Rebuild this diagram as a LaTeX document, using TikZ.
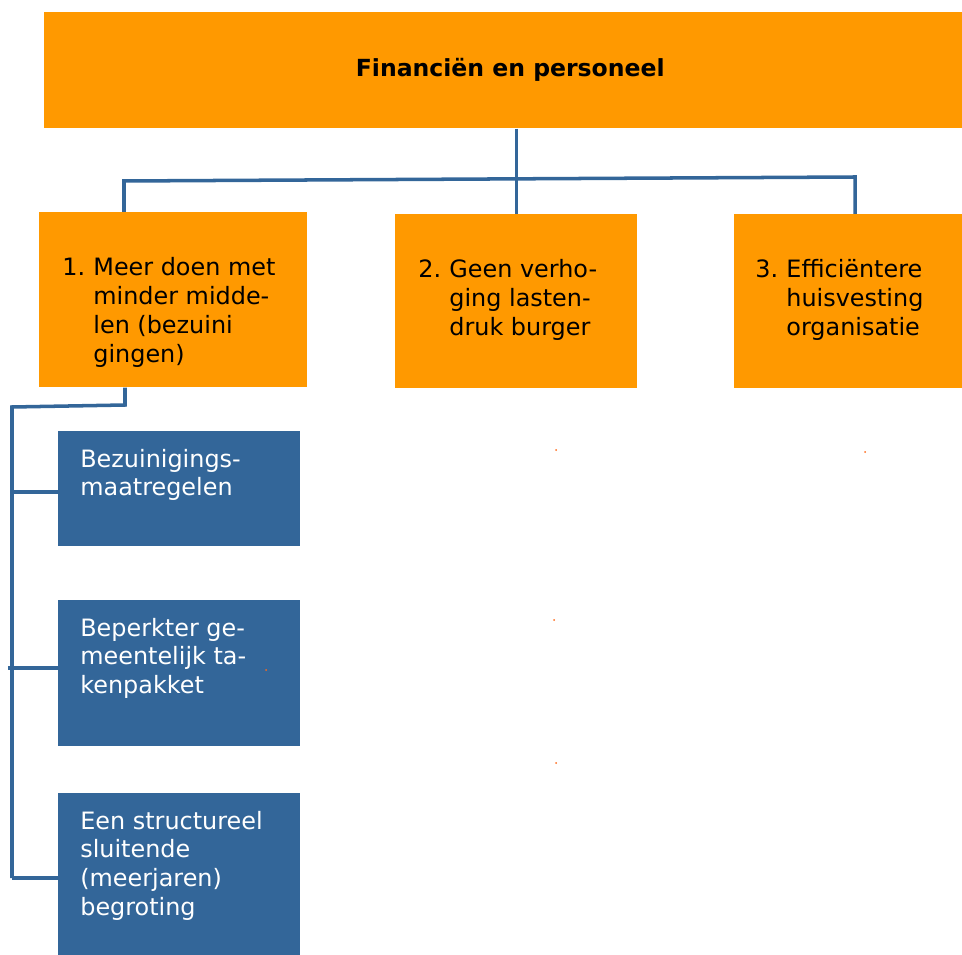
\documentclass[tikz,border=0pt]{standalone}
\usepackage{fontspec}
\setmainfont{DejaVu Sans}

\definecolor{goalorange}{HTML}{FF9900}
\definecolor{measureblue}{HTML}{336699}
\definecolor{speck}{HTML}{FF6A1A}

\newcommand{\numbered}[2]{\parbox[t]{8cm}{\hangindent=1.3em\hangafter=1\makebox[1.3em][l]{#1}#2}}
\newcommand{\plainlines}[1]{\parbox[t]{8cm}{#1}}

\tikzset{
  goalbox/.style={fill=goalorange, anchor=north west, inner sep=0pt},
  measurebox/.style={fill=measureblue, anchor=north west, inner sep=0pt},
  boxtext/.style={anchor=base west, inner sep=0pt, font=\fontsize{13.6}{16.4}\selectfont},
  link/.style={draw=measureblue, line width=2pt},
}

\begin{document}
\begin{tikzpicture}[x=0.02cm, y=-0.02cm]
  \useasboundingbox (0,0) rectangle (962,955);
  \clip (0,0) rectangle (962,955);

  % Theme
  \node[goalbox, minimum width=18.64cm, minimum height=2.32cm,
        font=\bfseries\fontsize{13.4}{15}\selectfont] (top) at (44,12) {Financiën en personeel};

  % Goals
  \node[goalbox, minimum width=5.36cm, minimum height=3.5cm] (goal1) at (39,212) {};
  \node[goalbox, minimum width=4.84cm, minimum height=3.48cm] (goal2) at (395,214) {};
  \node[goalbox, minimum width=4.9cm, minimum height=3.48cm] (goal3) at (734,214) {};

  \node[boxtext] (goal1text) at ([shift={(23,64)}]goal1.north west)
    {\numbered{1.}{Meer doen met\\minder midde-\\len (bezuini\\gingen)}};
  \node[boxtext] (goal2text) at ([shift={(23,64)}]goal2.north west)
    {\numbered{2.}{Geen verho-\\ging lasten-\\druk burger}};
  \node[boxtext] (goal3text) at ([shift={(21,64)}]goal3.north west)
    {\numbered{3.}{Efficiëntere\\huisvesting\\organisatie}};

  % Measures
  \node[measurebox, minimum width=4.84cm, minimum height=2.3cm] (measure1) at (58,431) {};
  \node[measurebox, minimum width=4.84cm, minimum height=2.92cm] (measure2) at (58,600) {};
  \node[measurebox, minimum width=4.84cm, minimum height=3.54cm] (measure3) at (58,793) {};

  \node[boxtext, text=white] (measure1text) at ([shift={(22,36)}]measure1.north west)
    {\plainlines{Bezuinigings-\\maatregelen}};
  \node[boxtext, text=white] (measure2text) at ([shift={(22,36)}]measure2.north west)
    {\plainlines{Beperkter ge-\\meentelijk ta-\\kenpakket}};
  \node[boxtext, text=white] (measure3text) at ([shift={(22,36)}]measure3.north west)
    {\plainlines{Een structureel\\sluitende\\(meerjaren)\\begroting}};

  % Connectors theme -> goals
  \coordinate (busleft) at (124,181);
  \coordinate (busright) at (855,177);
  \draw[link] (top.south -| goal2.north) -- (goal2.north);
  \draw[link] (goal1.north -| busleft) -- (busleft) -- (busright) -- (goal3.north -| busright);

  % Connectors goal 1 -> measures
  \coordinate (drop) at (125,405);
  \coordinate (spinetop) at (12,407);
  \coordinate (tap1) at (12,492);
  \coordinate (tap2) at (8,668);
  \coordinate (tap3) at (12,878);
  \draw[link] (goal1.south -| drop) -- (drop) -- (spinetop) -- (tap3);
  \draw[link] (tap1) -- (tap1 -| measure1.west);
  \draw[link] (tap2) -- (tap2 -| measure2.west);
  \draw[link] (tap3) -- (tap3 -| measure3.west);

  % Specks
  \fill[speck] (556,450) circle (1);
  \fill[speck] (865,452) circle (1);
  \fill[speck] (554,620) circle (1);
  \fill[speck] (556,763) circle (1);
  \fill[speck] (266,670) circle (1);
\end{tikzpicture}
\end{document}
